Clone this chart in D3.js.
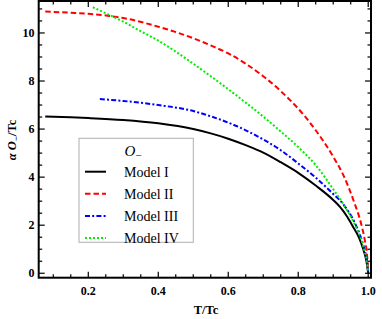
<!DOCTYPE html>
<html>
<head>
<meta charset="utf-8">
<script src="https://cdn.jsdelivr.net/npm/d3@7"></script>
<style>
  html, body { margin: 0; padding: 0; background: #fff; }
  svg { display: block; font-family: "Liberation Serif", "Times New Roman", serif; }
</style>
</head>
<body>
<div id="chart"></div>
<script>
// T/Tc and alpha O_-/Tc
const modelI_T = [0.077, 0.15, 0.2, 0.3, 0.4, 0.5, 0.55, 0.6, 0.65, 0.7, 0.75, 0.8, 0.85, 0.9, 0.92, 0.94, 0.96, 0.97, 0.98, 0.99, 0.995, 1.0];
const modelI_O = [6.52, 6.49, 6.46, 6.38, 6.24, 6.0, 5.82, 5.6, 5.33, 5.02, 4.62, 4.18, 3.65, 3.05, 2.75, 2.35, 1.85, 1.6, 1.25, 0.8, 0.5, 0];

const modelII_T = [0.077, 0.15, 0.2, 0.26, 0.3, 0.4, 0.5, 0.55, 0.6, 0.65, 0.7, 0.75, 0.8, 0.85, 0.9, 0.93, 0.96, 0.98, 0.99, 0.997, 1.0];
const modelII_O = [10.89, 10.84, 10.8, 10.71, 10.62, 10.26, 9.78, 9.48, 9.15, 8.72, 8.2, 7.58, 6.85, 5.95, 4.85, 4.05, 2.95, 2.05, 1.4, 0.7, 0];

const modelIII_T = [0.233, 0.3, 0.4, 0.5, 0.55, 0.6, 0.65, 0.7, 0.75, 0.8, 0.85, 0.9, 0.93, 0.96, 0.98, 0.99, 0.997, 1.0];
const modelIII_O = [7.25, 7.17, 7.0, 6.75, 6.53, 6.27, 5.95, 5.57, 5.12, 4.57, 3.98, 3.3, 2.85, 2.15, 1.45, 0.95, 0.5, 0];

const modelIV_T = [0.213, 0.25, 0.3, 0.35, 0.4, 0.45, 0.5, 0.55, 0.6, 0.65, 0.7, 0.75, 0.8, 0.85, 0.9, 0.93, 0.96, 0.98, 0.99, 0.997, 1.0];
const modelIV_O = [11.07, 10.82, 10.47, 10.07, 9.68, 9.22, 8.72, 8.2, 7.66, 7.1, 6.52, 5.9, 5.25, 4.5, 3.5, 2.85, 2.08, 1.4, 0.9, 0.45, 0];

const seriesNames = ["Model I", "Model II", "Model III", "Model IV"];
const xTicks = [0.2, 0.4, 0.6, 0.8, 1.0];
const yTicks = [0, 2, 4, 6, 8, 10];

const series = [
    { name: seriesNames[0], t: modelI_T, o: modelI_O, color: "#000000", dash: null },
    { name: seriesNames[1], t: modelII_T, o: modelII_O, color: "#ff0000", dash: "5.5,3" },
    { name: seriesNames[2], t: modelIII_T, o: modelIII_O, color: "#0000ff", dash: "5,2.2,2,2.2" },
    { name: seriesNames[3], t: modelIV_T, o: modelIV_O, color: "#00ee00", dash: "2,2" }
];

const width = 382, height = 319;
const plotLeft = 38.7, plotRight = 371, plotTop = 1, plotBottom = 277.7;

const svg = d3.select("#chart").append("svg")
    .attr("width", width)
    .attr("height", height);

const x = d3.scaleLinear().domain([0.0583, 1.008]).range([plotLeft, plotRight]);
const y = d3.scaleLinear().domain([-0.185, 11.33]).range([plotBottom, plotTop]);

// Clip region for the curves
svg.append("clipPath").attr("id", "plotClip")
    .append("rect")
    .attr("x", plotLeft).attr("y", plotTop)
    .attr("width", plotRight - plotLeft).attr("height", plotBottom - plotTop);

const line = d3.line()
    .x(d => x(d[0]))
    .y(d => y(d[1]))
    .curve(d3.curveMonotoneX);

const curves = svg.append("g").attr("clip-path", "url(#plotClip)");
series.forEach(s => {
    const pts = s.t.map((t, i) => [t, s.o[i]]);
    curves.append("path")
        .datum(pts)
        .attr("d", line)
        .attr("fill", "none")
        .attr("stroke", s.color)
        .attr("stroke-width", 2)
        .attr("stroke-dasharray", s.dash);
});

// Frame ticks (inward, on all four sides)
const xMinor = d3.range(0.1, 1.001, 0.05).map(v => +v.toFixed(2));
const yMinor = d3.range(0, 11.01, 0.5).map(v => +v.toFixed(1));

function isMajorX(v) { return xTicks.some(t => Math.abs(t - v) < 1e-6); }
function isMajorY(v) { return yTicks.some(t => Math.abs(t - v) < 1e-6); }

const ticks = svg.append("g").attr("stroke", "#000").attr("stroke-width", 1.2);
xMinor.forEach(v => {
    const len = isMajorX(v) ? 6 : 3.5;
    ticks.append("line").attr("x1", x(v)).attr("x2", x(v)).attr("y1", plotBottom).attr("y2", plotBottom - len);
    ticks.append("line").attr("x1", x(v)).attr("x2", x(v)).attr("y1", plotTop).attr("y2", plotTop + len);
});
yMinor.forEach(v => {
    const len = isMajorY(v) ? 6 : 3.5;
    ticks.append("line").attr("y1", y(v)).attr("y2", y(v)).attr("x1", plotLeft).attr("x2", plotLeft + len);
    ticks.append("line").attr("y1", y(v)).attr("y2", y(v)).attr("x1", plotRight).attr("x2", plotRight - len);
});

// Frame
svg.append("rect")
    .attr("x", plotLeft).attr("y", plotTop)
    .attr("width", plotRight - plotLeft).attr("height", plotBottom - plotTop)
    .attr("fill", "none")
    .attr("stroke", "#000")
    .attr("stroke-width", 2);

// Tick labels
svg.append("g").selectAll("text")
    .data(xTicks)
    .join("text")
    .attr("x", d => x(d))
    .attr("y", 295)
    .attr("text-anchor", "middle")
    .attr("font-size", 12)
    .attr("font-weight", "bold")
    .text(d => d3.format(".1f")(d));

svg.append("g").selectAll("text")
    .data(yTicks)
    .join("text")
    .attr("x", 34.5)
    .attr("y", d => y(d) + 4)
    .attr("text-anchor", "end")
    .attr("font-size", 12)
    .attr("font-weight", "bold")
    .text(d => d);

// Axis titles
svg.append("text")
    .attr("x", 206)
    .attr("y", 314)
    .attr("text-anchor", "middle")
    .attr("font-size", 12.5)
    .attr("font-weight", "bold")
    .text("T/Tc");

const yLab = svg.append("text")
    .attr("transform", "translate(16,140) rotate(-90)")
    .attr("text-anchor", "middle")
    .attr("font-size", 12.5)
    .attr("font-weight", "bold");
yLab.append("tspan").attr("font-style", "italic").text("α O");
yLab.append("tspan").attr("font-size", 9).attr("dy", 3).text("−");
yLab.append("tspan").attr("dy", -3).text("/Tc");

// Legend
const legend = svg.append("g");
legend.append("rect")
    .attr("x", 79).attr("y", 138.3)
    .attr("width", 114.3).attr("height", 104)
    .attr("fill", "#fff")
    .attr("stroke", "#b0b0b0")
    .attr("stroke-width", 1);

const title = legend.append("text")
    .attr("x", 133).attr("y", 155.5)
    .attr("text-anchor", "middle")
    .attr("font-size", 15);
title.append("tspan").attr("font-style", "italic").text("O");
title.append("tspan").attr("font-size", 11).attr("dy", 3).text("−");

const rowY = d3.scaleLinear().domain([0, 3]).range([171.7, 238]);
series.forEach((s, i) => {
    legend.append("line")
        .attr("x1", 85).attr("x2", 106)
        .attr("y1", rowY(i)).attr("y2", rowY(i))
        .attr("stroke", s.color)
        .attr("stroke-width", 2)
        .attr("stroke-dasharray", s.dash);
    legend.append("text")
        .attr("x", 124)
        .attr("y", rowY(i) + 4.8)
        .attr("font-size", 14)
        .text(s.name);
});
</script>
</body>
</html>
